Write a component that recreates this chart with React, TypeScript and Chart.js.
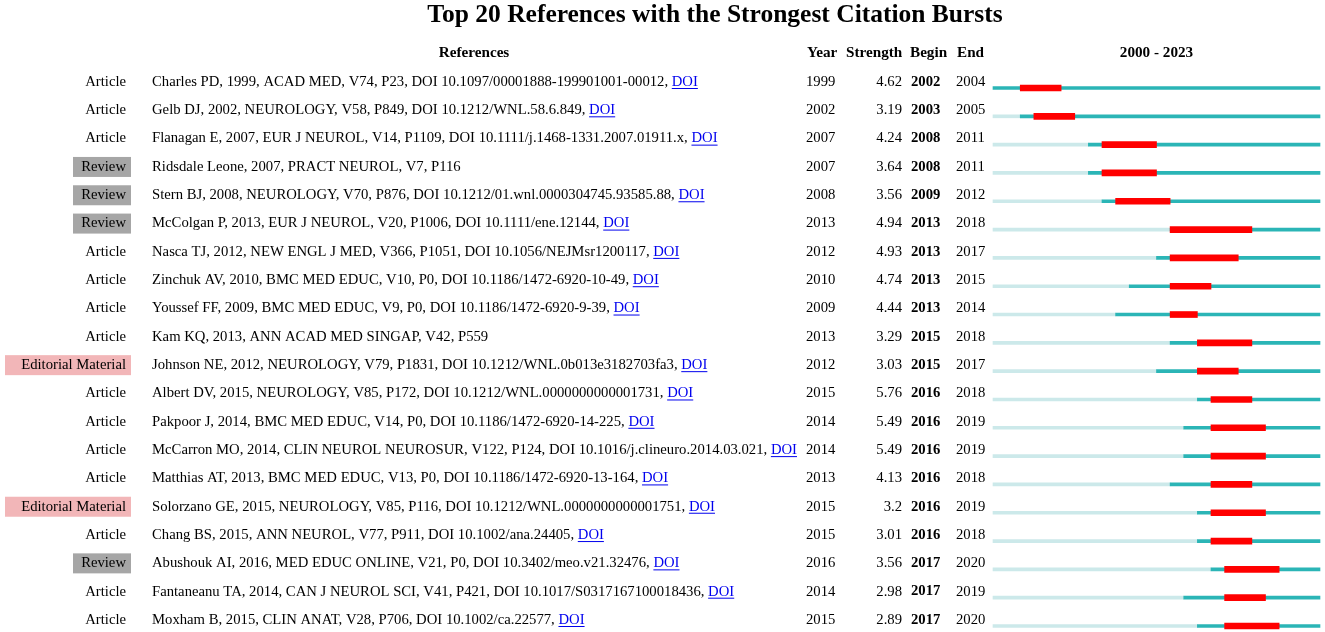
import React, { useEffect, useRef } from "react";
import { Chart, registerables } from "chart.js";

Chart.register(...registerables);

const TITLE = "Top 20 References with the Strongest Citation Bursts";
const HEADERS = ["References", "Year", "Strength", "Begin", "End", "2000 - 2023"];
const YEAR_MIN = 2000;
const YEAR_MAX = 2023;

const types = [
  "Article", "Article", "Article", "Review", "Review", "Review", "Article", "Article", "Article", "Article",
  "Editorial Material", "Article", "Article", "Article", "Article", "Editorial Material", "Article", "Review", "Article", "Article",
];

const references = [
  "Charles PD, 1999, ACAD MED, V74, P23, DOI 10.1097/00001888-199901001-00012,",
  "Gelb DJ, 2002, NEUROLOGY, V58, P849, DOI 10.1212/WNL.58.6.849,",
  "Flanagan E, 2007, EUR J NEUROL, V14, P1109, DOI 10.1111/j.1468-1331.2007.01911.x,",
  "Ridsdale Leone, 2007, PRACT NEUROL, V7, P116",
  "Stern BJ, 2008, NEUROLOGY, V70, P876, DOI 10.1212/01.wnl.0000304745.93585.88,",
  "McColgan P, 2013, EUR J NEUROL, V20, P1006, DOI 10.1111/ene.12144,",
  "Nasca TJ, 2012, NEW ENGL J MED, V366, P1051, DOI 10.1056/NEJMsr1200117,",
  "Zinchuk AV, 2010, BMC MED EDUC, V10, P0, DOI 10.1186/1472-6920-10-49,",
  "Youssef FF, 2009, BMC MED EDUC, V9, P0, DOI 10.1186/1472-6920-9-39,",
  "Kam KQ, 2013, ANN ACAD MED SINGAP, V42, P559",
  "Johnson NE, 2012, NEUROLOGY, V79, P1831, DOI 10.1212/WNL.0b013e3182703fa3,",
  "Albert DV, 2015, NEUROLOGY, V85, P172, DOI 10.1212/WNL.0000000000001731,",
  "Pakpoor J, 2014, BMC MED EDUC, V14, P0, DOI 10.1186/1472-6920-14-225,",
  "McCarron MO, 2014, CLIN NEUROL NEUROSUR, V122, P124, DOI 10.1016/j.clineuro.2014.03.021,",
  "Matthias AT, 2013, BMC MED EDUC, V13, P0, DOI 10.1186/1472-6920-13-164,",
  "Solorzano GE, 2015, NEUROLOGY, V85, P116, DOI 10.1212/WNL.0000000000001751,",
  "Chang BS, 2015, ANN NEUROL, V77, P911, DOI 10.1002/ana.24405,",
  "Abushouk AI, 2016, MED EDUC ONLINE, V21, P0, DOI 10.3402/meo.v21.32476,",
  "Fantaneanu TA, 2014, CAN J NEUROL SCI, V41, P421, DOI 10.1017/S0317167100018436,",
  "Moxham B, 2015, CLIN ANAT, V28, P706, DOI 10.1002/ca.22577,",
];

const hasDoi = [
  true, true, true, false, true, true, true, true, true, false,
  true, true, true, true, true, true, true, true, true, true,
];

const years = [1999, 2002, 2007, 2007, 2008, 2013, 2012, 2010, 2009, 2013, 2012, 2015, 2014, 2014, 2013, 2015, 2015, 2016, 2014, 2015];
const strengths = ["4.62", "3.19", "4.24", "3.64", "3.56", "4.94", "4.93", "4.74", "4.44", "3.29", "3.03", "5.76", "5.49", "5.49", "4.13", "3.2", "3.01", "3.56", "2.98", "2.89"];
const begins = [2002, 2003, 2008, 2008, 2009, 2013, 2013, 2013, 2013, 2015, 2015, 2016, 2016, 2016, 2016, 2016, 2016, 2017, 2017, 2017];
const ends = [2004, 2005, 2011, 2011, 2012, 2018, 2017, 2015, 2014, 2018, 2017, 2018, 2019, 2019, 2018, 2019, 2018, 2020, 2019, 2020];

const SERIF = '"Liberation Serif", "Times New Roman", serif';
const TEAL = "#2bb5b6";
const LIGHT = "#cce9ea";
const RED = "#ff0000";
const BODY = `14.7px ${SERIF}`;
const BODY_BOLD = `bold 14.7px ${SERIF}`;

const tablePlugin = {
  id: "tableText",
  afterDraw(chart: any) {
    const ctx = chart.ctx as CanvasRenderingContext2D;
    const yScale = chart.scales.y;
    const area = chart.chartArea;
    ctx.save();
    ctx.fillStyle = "#000";
    ctx.textBaseline = "middle";
    ctx.textAlign = "center";
    ctx.font = `bold 25.5px ${SERIF}`;
    ctx.fillText(TITLE, 715, 15);

    ctx.font = `bold 15.2px ${SERIF}`;
    const hy = 53;
    ctx.textAlign = "center";
    ctx.fillText(HEADERS[0], 474, hy);
    ctx.textAlign = "left";
    ctx.fillText(HEADERS[1], 807, hy);
    ctx.fillText(HEADERS[2], 846, hy);
    ctx.fillText(HEADERS[3], 910, hy);
    ctx.fillText(HEADERS[4], 957, hy);
    ctx.textAlign = "center";
    ctx.fillText(HEADERS[5], (area.left + area.right) / 2, hy);

    for (let i = 0; i < references.length; i++) {
      const y = yScale.getPixelForValue(i) - 6;
      const t = types[i];
      if (t === "Review") {
        ctx.fillStyle = "#a6a6a6";
        ctx.fillRect(73, y - 10, 58, 20);
      } else if (t === "Editorial Material") {
        ctx.fillStyle = "#f2b6b8";
        ctx.fillRect(5, y - 10, 126, 20);
      }
      ctx.fillStyle = "#000";
      ctx.font = BODY;
      ctx.textAlign = "right";
      ctx.fillText(t, 126, y);
      ctx.textAlign = "left";
      const txt = references[i];
      ctx.fillText(txt, 152, y);
      if (hasDoi[i]) {
        const w = ctx.measureText(txt + " ").width;
        const x0 = 152 + w;
        ctx.fillStyle = "#0000ee";
        ctx.fillText("DOI", x0, y);
        const dw = ctx.measureText("DOI").width;
        ctx.fillRect(x0, y + 6, dw, 1);
        ctx.fillStyle = "#000";
      }
      ctx.fillText(String(years[i]), 806, y);
      ctx.textAlign = "right";
      ctx.fillText(strengths[i], 902, y);
      ctx.textAlign = "left";
      ctx.font = BODY_BOLD;
      ctx.fillText(String(begins[i]), 911, y);
      ctx.font = BODY;
      ctx.fillText(String(ends[i]), 956, y);
    }
    ctx.restore();
  },
};

export default function App() {
  const ref = useRef<HTMLCanvasElement | null>(null);
  useEffect(() => {
    if (!ref.current) return;
    const labels = references.map((_, i) => String(i));
    const lightData = years.map((y) => (y > YEAR_MIN ? [YEAR_MIN, y] : null));
    const tealData = years.map((y) => [Math.max(YEAR_MIN, y), YEAR_MAX + 1]);
    const redData = begins.map((b, i) => [b, ends[i] + 1]);
    const chart = new Chart(ref.current, {
      type: "bar",
      data: {
        labels,
        datasets: [
          { label: "Burst", data: redData as any, backgroundColor: RED, barThickness: 6, grouped: false, order: 0, clip: false as any },
          { label: "Cited", data: tealData as any, backgroundColor: TEAL, barThickness: 3, grouped: false, order: 1, clip: false as any },
          { label: "Before", data: lightData as any, backgroundColor: LIGHT, barThickness: 3, grouped: false, order: 2, clip: false as any },
        ],
      },
      options: {
        indexAxis: "y",
        responsive: false,
        animation: false,
        layout: { padding: { left: 993, right: 5, top: 88, bottom: 6 } },
        plugins: { legend: { display: false }, tooltip: { enabled: false }, title: { display: false } },
        scales: {
          x: { type: "linear", min: YEAR_MIN, max: YEAR_MAX + 1, display: false },
          y: { type: "category", offset: false, display: false },
        },
      },
      plugins: [tablePlugin],
    });
    return () => chart.destroy();
  }, []);
  return (
    <div style={{ position: "fixed", left: 0, top: 0, width: 1325, height: 632, background: "#fff" }}>
      <canvas ref={ref} width={1325} height={632} style={{ display: "block" }} />
    </div>
  );
}
